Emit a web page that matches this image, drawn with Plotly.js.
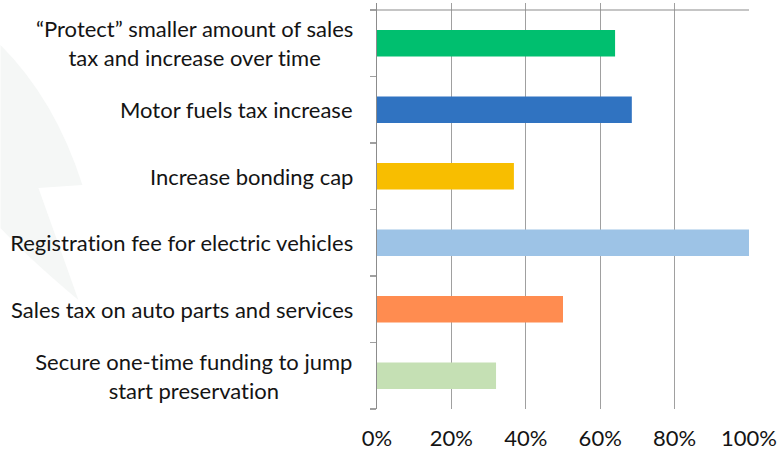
<!DOCTYPE html>
<html>
<head>
<meta charset="utf-8">
<script src="https://cdn.plot.ly/plotly-3.0.1.min.js"></script>
<style>html,body{margin:0;padding:0;background:#fff;}#chart{width:777px;height:449px;}
#chart text{font-variant-ligatures:none;font-feature-settings:"liga" 0,"clig" 0;}</style>
</head>
<body>
<div id="chart"></div>
<script>
// Categories listed bottom to top
const categories = [
  "Secure one-time funding to jump<br>start preservation",
  "Sales tax on auto parts and services",
  "Registration fee for electric vehicles",
  "Increase bonding cap",
  "Motor fuels tax increase",
  "“Protect” smaller amount of sales<br>tax and increase over time"
];
const values = [0.32, 0.50, 1.00, 0.368, 0.685, 0.64];
const barColors = ["#C5E0B4", "#FF8C50", "#9DC3E6", "#F8BE00", "#3073C1", "#00BF6F"];
const xTickVals = [0, 0.2, 0.4, 0.6, 0.8, 1.0];
const xTickText = ["0%", "20%", "40%", "60%", "80%", "100%"];

const FONT = "Lato, 'Open Sans', sans-serif";
const TEXT = "#141414";

const trace = {
  type: "bar",
  orientation: "h",
  y: categories,
  x: values,
  marker: {color: barColors, line: {width: 0}},
  hoverinfo: "skip"
};

const annotations = categories.map(c => ({
  text: c, x: 0, xref: "paper", xanchor: "right", xshift: -22,
  y: c, yref: "y", yanchor: "middle", align: "center", showarrow: false,
  font: {family: FONT, size: 22, color: TEXT}
}));

const layout = {
  width: 777, height: 449,
  margin: {l: 377, r: 27.5, t: 3, b: 40},
  paper_bgcolor: "#ffffff", plot_bgcolor: "rgba(0,0,0,0)",
  bargap: 0.6,
  showlegend: false,
  font: {family: FONT, size: 22, color: TEXT},
  xaxis: {
    range: [0, 1], tickvals: xTickVals, ticktext: xTickText,
    showgrid: true, gridcolor: "#a0a0a0", gridwidth: 1.2,
    zeroline: false, showline: false, ticks: "",
    ticklabelstandoff: 14,
    tickfont: {family: FONT, size: 22, color: TEXT},
    fixedrange: true
  },
  yaxis: {
    type: "category", range: [-0.5, 5.605],
    showticklabels: false, ticks: "outside", ticklen: 6, tickcolor: "#a0a0a0", tickwidth: 1.2,
    tickson: "boundaries", showgrid: false, zeroline: false,
    showline: true, linecolor: "#8c8c8c", linewidth: 1.2,
    fixedrange: true
  },
  shapes: [
    {type: "path", xref: "paper", yref: "paper", layer: "below",
     path: "M -1.0121 0.8966 Q -0.8644 0.7611 -0.7919 0.5517 L -0.9101 0.5443 L -0.8027 0.2685 Q -0.9315 0.3670 -1.0121 0.4458 Z",
     fillcolor: "#f5f7f6", line: {width: 0}},
    {type: "line", xref: "paper", yref: "y", x0: 0, x1: 1, y0: 5.5, y1: 5.5,
     line: {color: "#8c8c8c", width: 1.2}}
  ],
  annotations: annotations
};

Plotly.newPlot("chart", [trace], layout, {displayModeBar: false, staticPlot: true});
</script>
</body>
</html>
